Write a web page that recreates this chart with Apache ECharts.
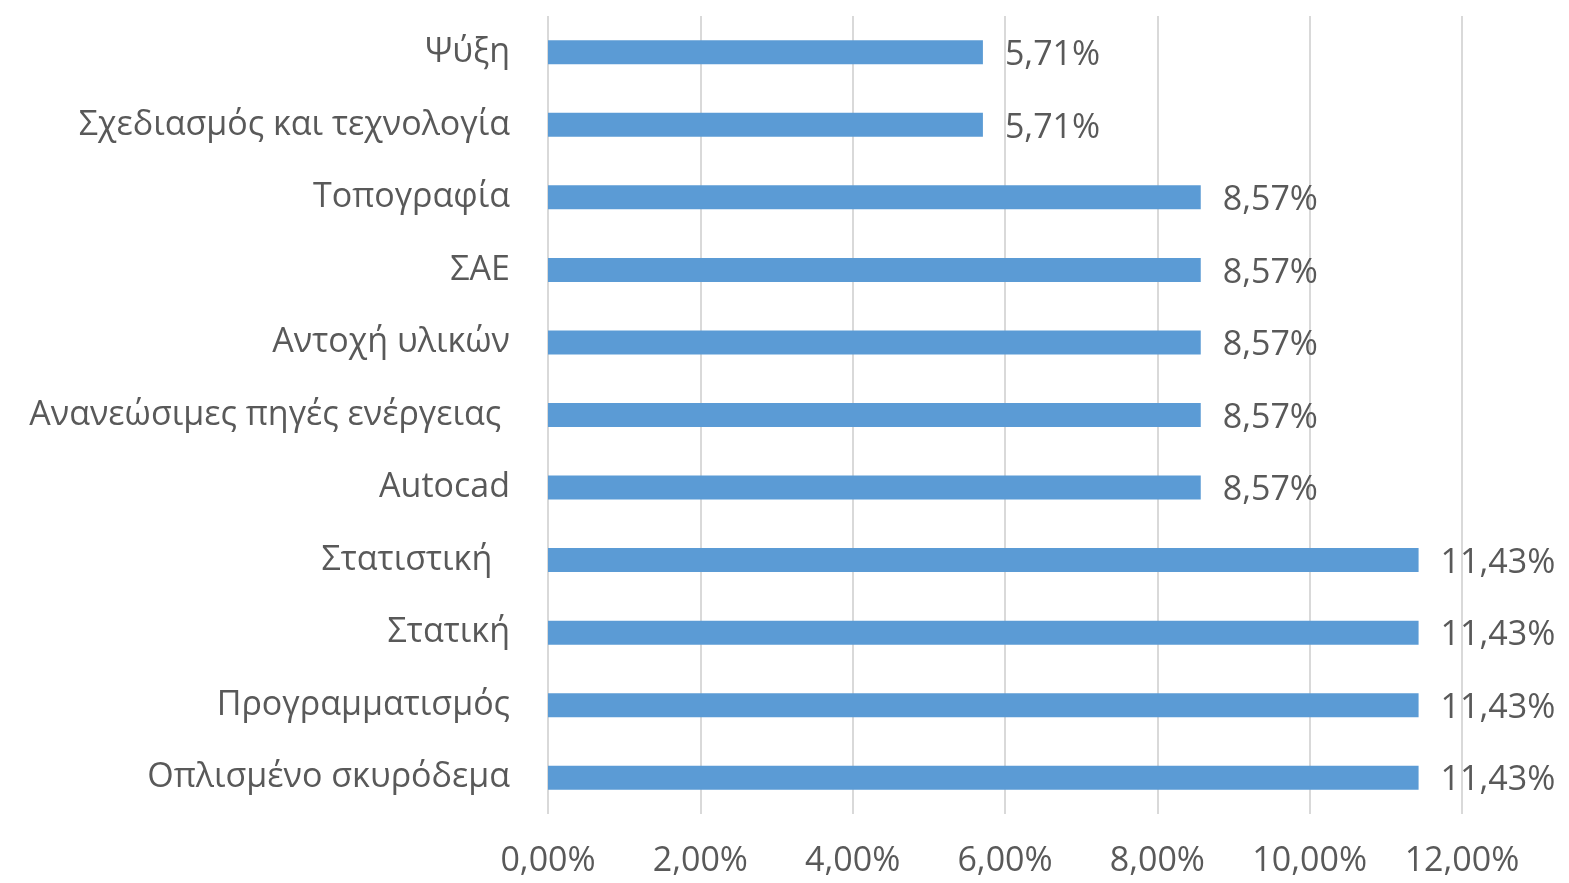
<!DOCTYPE html>
<html>
<head>
<meta charset="utf-8">
<script src="https://cdn.jsdelivr.net/npm/echarts@6/dist/echarts.min.js"></script>
<style>
  html, body { margin: 0; padding: 0; background: #fff; }
  #chart { width: 1569px; height: 883px; }
</style>
</head>
<body>
<div id="chart"></div>
<script>
// categories bottom -> top (as the category axis draws them)
const categories = [
  'Οπλισμένο σκυρόδεμα',
  'Προγραμματισμός',
  'Στατική',
  'Στατιστική  ',
  'Autocad',
  'Ανανεώσιμες πηγές ενέργειας ',
  'Αντοχή υλικών',
  'ΣΑΕ',
  'Τοπογραφία',
  'Σχεδιασμός και τεχνολογία',
  'Ψύξη'
];
const values = [11.43, 11.43, 11.43, 11.43, 8.57, 8.57, 8.57, 8.57, 8.57, 5.71, 5.71];
const tickMax = 12;
const tickStep = 2;

const fmt = v => v.toFixed(2).replace('.', ',') + '%';

const chart = echarts.init(document.getElementById('chart'));
chart.setOption({
  animation: false,
  textStyle: { fontFamily: 'Open Sans', color: '#595959' },
  grid: { left: 548, right: 107, top: 16, bottom: 69, containLabel: false },
  xAxis: {
    type: 'value',
    min: 0,
    max: tickMax,
    interval: tickStep,
    axisLine: { show: false },
    axisTick: { show: false },
    splitLine: { lineStyle: { color: '#D9D9D9', width: 2 } },
    axisLabel: {
      formatter: v => fmt(v),
      fontSize: 34,
      color: '#595959',
      margin: 30,
      fontFamily: 'Open Sans'
    }
  },
  yAxis: {
    type: 'category',
    data: categories,
    axisLine: { show: false },
    axisTick: { show: false },
    axisLabel: {
      fontSize: 34,
      color: '#595959',
      margin: 38,
      fontFamily: 'Open Sans'
    }
  },
  series: [{
    type: 'bar',
    data: values,
    barWidth: 24,
    itemStyle: { color: '#5B9BD5' },
    label: {
      show: true,
      position: 'right',
      distance: 22,
      offset: [0, 3],
      formatter: p => fmt(p.value),
      fontSize: 34,
      color: '#595959',
      fontFamily: 'Open Sans'
    }
  }]
});
</script>
</body>
</html>
